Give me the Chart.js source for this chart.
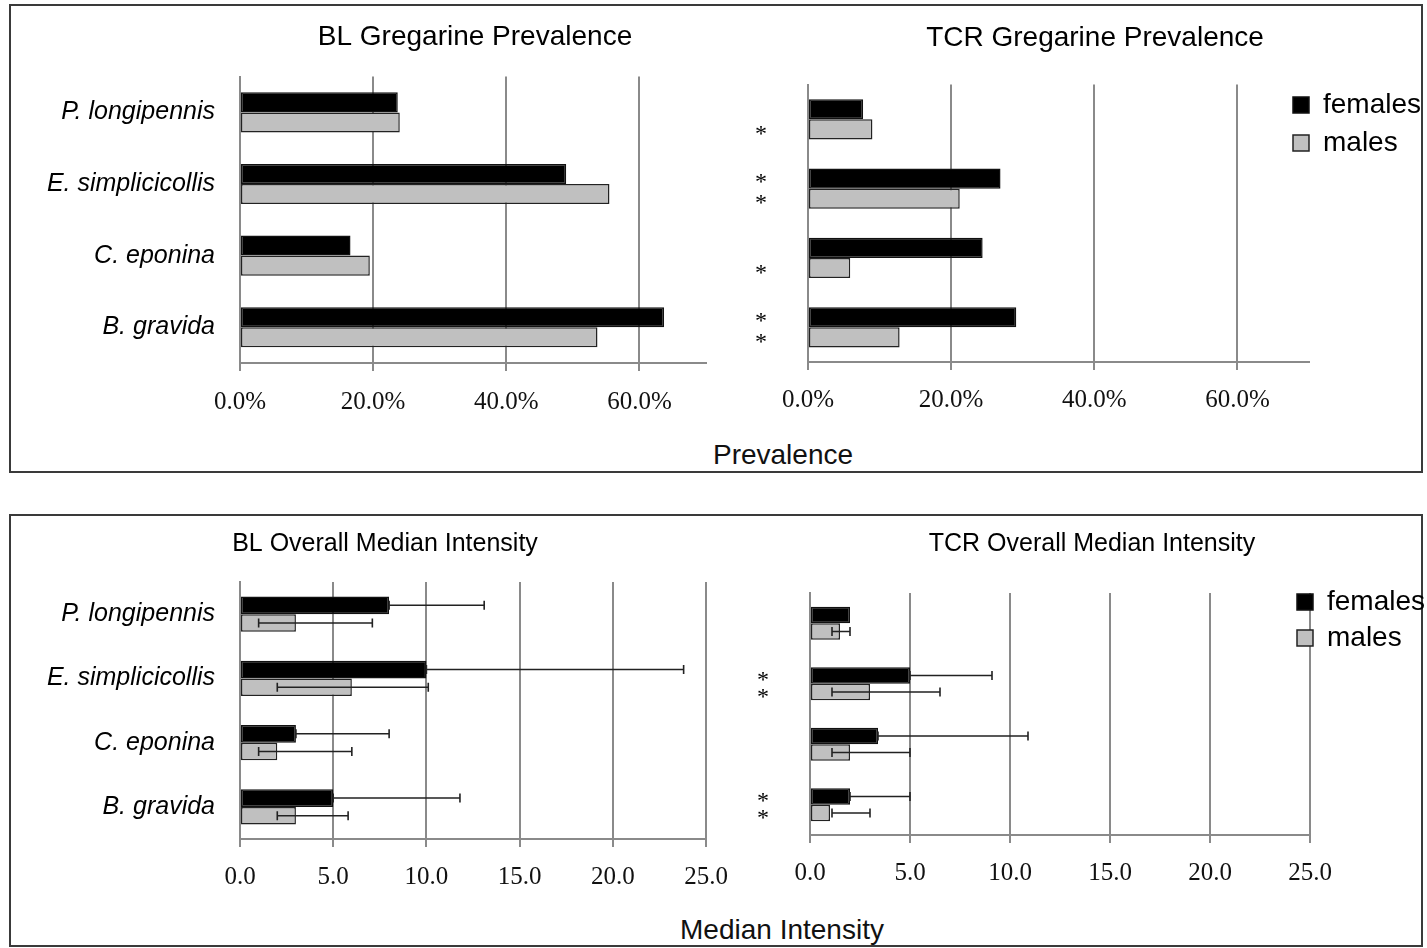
<!DOCTYPE html>
<html>
<head>
<meta charset="utf-8">
<script src="https://cdn.jsdelivr.net/npm/chart.js@4.4.0/dist/chart.umd.min.js"></script>
<style>
html, body { margin: 0; padding: 0; width: 1427px; height: 948px; overflow: hidden; background: #fff; }
.panel { position: absolute; border: 2px solid #3a3a3a; box-sizing: border-box; }
canvas { position: absolute; }
.axisName { position: absolute; width: 400px; line-height: 32px; text-align: center;
  font-family: "Liberation Sans", Arial, sans-serif; font-size: 28px; color: #111; }
</style>
</head>
<body>
<div class="panel" style="left:9px;top:4px;width:1414px;height:469px"></div>
<div class="panel" style="left:9px;top:514px;width:1414px;height:433px"></div>

<canvas id="blPrev" width="910" height="425" style="left:20px;top:8px"></canvas>
<canvas id="tcrPrev" width="700" height="422" style="left:745px;top:8px"></canvas>
<canvas id="blInt" width="730" height="387" style="left:20px;top:520px"></canvas>
<canvas id="tcrInt" width="694" height="383" style="left:745px;top:520px"></canvas>

<div class="axisName" style="left:583px;top:439px">Prevalence</div>
<div class="axisName" style="left:582px;top:914px">Median Intensity</div>

<script>
// Categories and series names
const species = ["P. longipennis", "E. simplicicollis", "C. eponina", "B. gravida"];
const seriesNames = ["females", "males"];

// Prevalence (%)
const blPrevFemales = [23.7, 49.0, 16.6, 63.7];
const blPrevMales = [24.0, 55.5, 19.5, 53.7];
const tcrPrevFemales = [7.7, 26.9, 24.4, 29.1];
const tcrPrevMales = [9.0, 21.2, 5.9, 12.8];

// Median intensity, with error bar ends
const blIntFemales = [8, 10, 3, 5];
const blIntFemalesHigh = [13.1, 23.8, 8.0, 11.8];
const blIntMales = [3, 6, 2, 3];
const blIntMalesLow = [1, 2, 1, 2];
const blIntMalesHigh = [7.1, 10.1, 6.0, 5.8];

const tcrIntFemales = [2, 5, 3.4, 2];
const tcrIntFemalesHigh = [2, 9.1, 10.9, 5];
const tcrIntMales = [1.5, 3, 2, 1];
const tcrIntMalesLow = [1.1, 1.1, 1.1, 1.1];
const tcrIntMalesHigh = [2.0, 6.5, 5.0, 3.0];

// Significance marks per category: [females, males]
const tcrPrevStars = [[0, 1], [1, 1], [0, 1], [1, 1]];
const tcrIntStars = [[0, 0], [1, 1], [0, 0], [1, 1]];

// Tick labels
const prevTicks = [0, 20, 40, 60];
const intTicks = [0, 5, 10, 15, 20, 25];

Chart.defaults.font.family = '"Liberation Sans", Arial, sans-serif';
Chart.defaults.color = "#000";

const gridGray = "#8a8a8a";
const serif = '"Liberation Serif", "Times New Roman", serif';

// draws the error bars from the x scale
const errorBars = {
    id: "errorBars",
    afterDatasetsDraw(chart) {
        const ctx = chart.ctx;
        const xs = chart.scales.x;
        chart.data.datasets.forEach((ds, di) => {
            if (!ds.errHigh) return;
            const meta = chart.getDatasetMeta(di);
            meta.data.forEach((bar, i) => {
                const lo = ds.errLow ? ds.errLow[i] : ds.data[i];
                const hi = ds.errHigh[i];
                if (hi <= ds.data[i]) return;
                const x1 = xs.getPixelForValue(lo);
                const x2 = xs.getPixelForValue(hi);
                const y = bar.y;
                ctx.save();
                ctx.strokeStyle = "#222";
                ctx.lineWidth = 1.6;
                ctx.beginPath();
                ctx.moveTo(x1, y);
                ctx.lineTo(x2, y);
                [x1, x2].forEach(x => {
                    ctx.moveTo(x, y - 4.5);
                    ctx.lineTo(x, y + 4.5);
                });
                ctx.stroke();
                ctx.restore();
            });
        });
    }
};

// moves the legend to a fixed spot (it floats over the plot like in Excel)
const legendPlace = {
    id: "legendPlace",
    afterLayout(chart, args, opts) {
        const lg = chart.legend;
        if (!lg || opts.x === undefined) return;
        const pad = lg.options.labels.padding;
        const fs = lg.options.labels.font.size;
        lg.left = opts.x - pad;
        lg.right = lg.left + lg.width;
        lg.top = opts.y - pad - fs / 2;
        lg.bottom = lg.top + lg.height;
    }
};

function buildChart(id, o) {
    const tickValues = o.percent ? prevTicks : intTicks;
    return new Chart(id, {
        type: "bar",
        data: {
            labels: species,
            datasets: [{
                label: seriesNames[0],
                data: o.females,
                errHigh: o.femalesHigh,
                backgroundColor: "#000",
                borderColor: "#111"
            }, {
                label: seriesNames[1],
                data: o.males,
                errLow: o.malesLow,
                errHigh: o.malesHigh,
                backgroundColor: "#c0c0c0",
                borderColor: "#222"
            }]
        },
        plugins: [errorBars, legendPlace],
        options: {
            indexAxis: "y",
            responsive: false,
            animation: false,
            datasets: {
                bar: {
                    categoryPercentage: o.catPct,
                    barPercentage: 1,
                    borderWidth: 1.5,
                    borderSkipped: false
                }
            },
            layout: { padding: 0 },
            scales: {
                x: {
                    min: 0,
                    max: o.max,
                    afterBuildTicks: axis => { axis.ticks = tickValues.map(v => ({ value: v })); },
                    grid: { color: gridGray, lineWidth: 2, tickLength: 8, drawTicks: true },
                    border: { display: true, color: gridGray, width: 2 },
                    ticks: {
                        padding: o.tickPad,
                        maxRotation: 0,
                        autoSkip: false,
                        color: "#111",
                        font: { family: serif, size: 25 },
                        callback: v => o.percent ? v.toFixed(1) + "%" : v.toFixed(1)
                    }
                },
                y: {
                    afterFit: axis => { axis.width = o.yWidth; },
                    grid: { display: false, drawTicks: false },
                    border: { display: true, color: gridGray, width: 2 },
                    ticks: o.stars ? {
                        padding: 41,
                        labelOffset: 5,
                        font: { family: serif, size: 24, lineHeight: o.starLine + "px" },
                        callback: (v, i) => o.stars[i].map(s => s ? "*" : "")
                    } : {
                        padding: 25,
                        font: { size: 25, style: "italic" }
                    }
                },
                // empty right-hand axis: keeps space so the title stays centred on the canvas
                spacer: {
                    type: "linear",
                    position: "right",
                    afterFit: axis => { axis.width = o.padRight; },
                    grid: { display: false, drawTicks: false },
                    border: { display: false },
                    ticks: { display: false }
                }
            },
            plugins: {
                tooltip: { enabled: false },
                title: {
                    display: true,
                    text: o.title,
                    font: { size: o.titleSize, weight: "normal" },
                    padding: { top: o.titleTop, bottom: o.titleBottom }
                },
                legend: o.legend ? {
                    display: true,
                    position: "chartArea",
                    align: "start",
                    labels: {
                        boxWidth: 16,
                        boxHeight: 16,
                        padding: o.legend.pad,
                        color: "#000",
                        font: { size: 28 }
                    }
                } : { display: false },
                legendPlace: o.legend ? { x: o.legend.x, y: o.legend.y } : {}
            }
        }
    });
}

// Prevalence charts
buildChart("blPrev", {
    title: "BL Gregarine Prevalence", titleSize: 28, titleTop: 12, titleBottom: 23,
    females: blPrevFemales, males: blPrevMales,
    percent: true, max: 70, catPct: 0.56,
    yWidth: 220, padRight: 224, tickPad: 16
});

buildChart("tcrPrev", {
    title: "TCR Gregarine Prevalence", titleSize: 28, titleTop: 13, titleBottom: 30,
    females: tcrPrevFemales, males: tcrPrevMales,
    percent: true, max: 70, catPct: 0.58,
    yWidth: 63, padRight: 136, tickPad: 15,
    stars: tcrPrevStars, starLine: 21,
    legend: { x: 548, y: 97, pad: 10 }
});

// Median intensity charts
buildChart("blInt", {
    title: "BL Overall Median Intensity", titleSize: 25, titleTop: 9, titleBottom: 23,
    females: blIntFemales, femalesHigh: blIntFemalesHigh,
    males: blIntMales, malesLow: blIntMalesLow, malesHigh: blIntMalesHigh,
    percent: false, max: 25, catPct: 0.55,
    yWidth: 220, padRight: 44, tickPad: 15
});

buildChart("tcrInt", {
    title: "TCR Overall Median Intensity", titleSize: 25, titleTop: 9, titleBottom: 34,
    females: tcrIntFemales, femalesHigh: tcrIntFemalesHigh,
    males: tcrIntMales, malesLow: tcrIntMalesLow, malesHigh: tcrIntMalesHigh,
    percent: false, max: 25, catPct: 0.545,
    yWidth: 65, padRight: 129, tickPad: 15,
    stars: tcrIntStars, starLine: 17,
    legend: { x: 552, y: 82, pad: 8 }
});
</script>
</body>
</html>
